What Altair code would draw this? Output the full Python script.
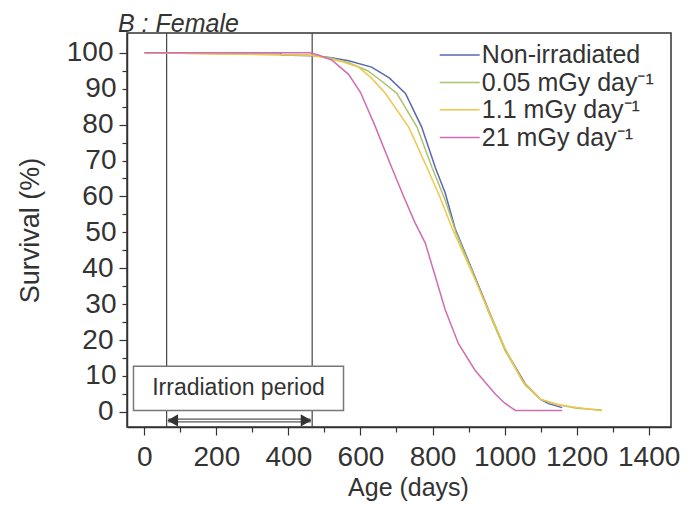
import altair as alt
import pandas as pd

# ---------------- data ----------------
series = ["Non-irradiated", "0.05 mGy day⁻¹", "1.1 mGy day⁻¹", "21 mGy day⁻¹"]
colors = ["#5b68b0", "#a9c46c", "#f0c64c", "#d06cb6"]

days_ctrl = [141, 378, 380, 470, 520, 567, 631, 680, 725, 770, 808, 835, 863, 909, 955, 1002, 1057, 1100, 1122, 1160]
surv_ctrl = [100, 100, 99.4, 99.2, 98.6, 97.8, 96, 93, 88.7, 79.3, 68, 61, 51, 39.8, 28.5, 17.3, 7.9, 3.5, 2.3, 1.2]

days_005 = [0, 460, 520, 567, 620, 660, 701, 757, 799, 835, 865, 909, 955, 1002, 1057, 1100, 1150, 1200, 1270]
surv_005 = [100, 99.4, 98.5, 97.2, 95, 92, 88.7, 79.3, 68, 59, 50, 39.5, 28, 17, 7.5, 3.5, 2, 1, 0.5]

days_11 = [0, 460, 500, 550, 595, 630, 669, 734, 785, 820, 855, 900, 950, 1000, 1050, 1100, 1150, 1200, 1270]
surv_11 = [100, 99.3, 98.6, 97.5, 96, 93, 88.7, 79.3, 68, 60, 51, 41, 29.5, 18, 8.5, 3.5, 2, 1.2, 0.3]

days_21 = [0, 460, 483, 520, 567, 600, 641, 687, 720, 750, 780, 807, 835, 872, 918, 974, 1000, 1030, 1160]
surv_21 = [100, 100, 99.4, 98, 94, 89, 79.5, 68, 60, 53, 47, 38, 28.5, 19, 11.6, 5, 2.5, 0.4, 0.4]

irr_days = [62, 466]            # irradiation period boundaries
box_days = [-30, 553]           # annotation box extent
box_surv = [0.4, 12.7]
arrow_surv = -2.37
legend_days = [820, 931, 937]
legend_surv = [99.4, 91.7, 84.1, 76.4]

x_ticks = list(range(0, 1401, 100))
y_ticks = list(range(0, 101, 5))

# ---------------- tables ----------------
rows = []
for name, d, s in [(series[0], days_ctrl, surv_ctrl), (series[1], days_005, surv_005),
                   (series[2], days_11, surv_11), (series[3], days_21, surv_21)]:
    for i, (a, b) in enumerate(zip(d, s)):
        rows.append({"series": name, "days": a, "surv": b, "i": i})
curves = pd.DataFrame(rows)

TXT = "#333333"
FONT = "Liberation Sans"

xs = alt.Scale(domain=[-48, 1462], nice=False, zero=False)
ys = alt.Scale(domain=[-4.2, 105.5], nice=False, zero=False)
cs = alt.Scale(domain=series, range=colors)

xaxis = alt.Axis(values=x_ticks, format="d", grid=False,
                 labelExpr="datum.value % 200 === 0 ? datum.label : ''",
                 tickSize={"condition": {"test": "datum.value % 200 === 0", "value": 8}, "value": 5},
                 labelPadding=8, title="Age (days)", titleX=281, titleY=68,
                 titleBaseline="alphabetic", titleFontSize=25)
yaxis = alt.Axis(values=y_ticks, format="d", grid=False,
                 labelExpr="datum.value % 10 === 0 ? datum.label : ''",
                 tickSize={"condition": {"test": "datum.value % 20 === 0", "value": 8}, "value": 5},
                 labelPadding=6, title="Survival (%)", titleX=-97, titleY=197,
                 titleAngle=-90, titleAlign="center", titleBaseline="middle", titleFontSize=27)

X = alt.X("days:Q", scale=xs, axis=xaxis)
Y = alt.Y("surv:Q", scale=ys, axis=yaxis)

vlines = alt.Chart(pd.DataFrame({"days": irr_days})).mark_rule(
    color="#444444", strokeWidth=1.2).encode(x=X)

lines = alt.Chart(curves).mark_line(strokeWidth=1.5).encode(
    x=X, y=Y, color=alt.Color("series:N", scale=cs, legend=None), order="i:Q")

box_df = pd.DataFrame({"days": [box_days[0]], "days2": [box_days[1]],
                       "surv": [box_surv[0]], "surv2": [box_surv[1]]})
box = alt.Chart(box_df).mark_rect(fill="white", stroke="#777777", strokeWidth=1.5).encode(
    x=X, x2="days2:Q", y=Y, y2="surv2:Q")

box_text_df = pd.DataFrame({"days": [(box_days[0] + box_days[1]) / 2],
                            "surv": [(box_surv[0] + box_surv[1]) / 2],
                            "label": ["Irradiation period"]})
box_text = alt.Chart(box_text_df).mark_text(
    fontSize=23, color=TXT, font=FONT, align="center", baseline="middle").encode(
    x=X, y=Y, text="label:N")

arrow_df = pd.DataFrame({"days": [irr_days[0] + 4], "days2": [irr_days[1] - 4], "surv": [arrow_surv]})
arrow_outer = alt.Chart(arrow_df).mark_rule(color="#555555", strokeWidth=4).encode(
    x=X, x2="days2:Q", y=Y)
arrow_inner = alt.Chart(arrow_df).mark_rule(color="#ffffff", strokeWidth=1.5).encode(
    x=X, x2="days2:Q", y=Y)

heads_df = pd.DataFrame({"days": [irr_days[0] + 17, irr_days[1] - 17],
                         "surv": [arrow_surv, arrow_surv],
                         "shape": ["triangle-left", "triangle-right"]})
heads = alt.Chart(heads_df).mark_point(filled=True, color="#333333", size=150, opacity=1).encode(
    x=X, y=Y, shape=alt.Shape("shape:N", scale=None))

leg_df = pd.DataFrame({"series": series, "days": [legend_days[0]] * 4,
                       "days2": [legend_days[1]] * 4, "tdays": [legend_days[2]] * 4,
                       "surv": legend_surv})
leg_lines = alt.Chart(leg_df).mark_rule(strokeWidth=1.5).encode(
    x=X, x2="days2:Q", y=Y, color=alt.Color("series:N", scale=cs, legend=None))
leg_text = alt.Chart(leg_df).mark_text(
    fontSize=25, color=TXT, font=FONT, align="left", baseline="middle").encode(
    x=alt.X("tdays:Q", scale=xs, axis=xaxis), y=Y, text="series:N")

chart = alt.layer(
    vlines, lines, box, box_text, arrow_outer, arrow_inner, heads, leg_lines, leg_text
).properties(
    width=544, height=394,
    autosize=alt.AutoSizeParams(type="none"),
    padding={"left": 119, "top": 25, "right": 10, "bottom": 76},
    title=alt.TitleParams("B : Female", anchor="start", frame="group", dx=-9, dy=5, offset=0,
                          fontSize=25, fontStyle="italic", fontWeight="normal",
                          color=TXT, font=FONT),
).configure_view(
    stroke="#333333", strokeWidth=1.5
).configure_axis(
    labelFont=FONT, titleFont=FONT, labelFontSize=28, labelColor=TXT, titleColor=TXT,
    titleFontWeight="normal", domainColor="#333333", domainWidth=1.5,
    tickColor="#333333", tickWidth=1.2
)

chart.save("out.html", embed_options={"renderer": "svg", "actions": False})
